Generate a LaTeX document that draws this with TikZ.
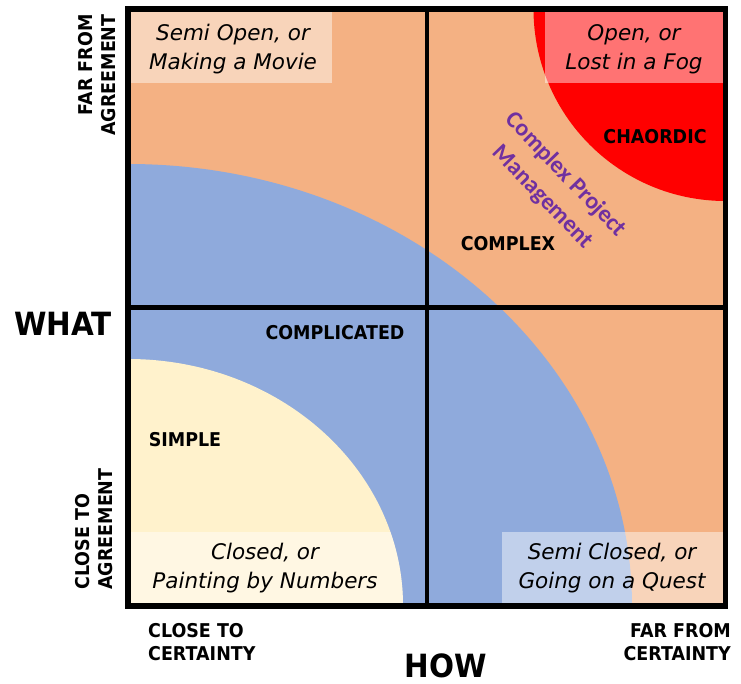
\documentclass[tikz,border=0pt]{standalone}
\usepackage{fontspec}
\newfontfamily\capsfont{DejaVu Sans}[FakeStretch=0.92]
\newfontfamily\handfont{DejaVu Sans}
\newfontfamily\pmfont{Carlito}
\definecolor{peach}{HTML}{F4B183}
\definecolor{bluezone}{HTML}{8FAADC}
\definecolor{cream}{HTML}{FFF2CC}
\definecolor{redzone}{HTML}{FF0000}
\definecolor{pmpurple}{HTML}{7030A0}
\tikzset{
  panel/.style={fill=white, fill opacity=0.45},
  gridline/.style={line width=4.5pt},
  frameline/.style={line width=5.5pt},
  handlabel/.style={font=\handfont\itshape\fontsize{21.5}{29}\selectfont, align=center, inner sep=0pt},
  capslabel/.style={font=\capsfont\bfseries\fontsize{19}{23}\selectfont, inner sep=0pt},
  axistitle/.style={font=\capsfont\bfseries\fontsize{32}{36}\selectfont, inner sep=0pt},
  pmlabel/.style={font=\pmfont\bfseries\fontsize{24}{32}\selectfont, text=pmpurple, align=center, inner sep=0pt}
}
\begin{document}
\begin{tikzpicture}[x=1pt,y=-1pt]
\useasboundingbox (0,0) rectangle (741,684);
% coloured zones inside the frame
\begin{scope}
  \clip (128,9) rectangle (725.5,606);
  \fill[peach] (128,9) rectangle (725.5,606);
  \fill[bluezone] (128,606) ellipse [x radius=504, y radius=442];
  \fill[cream] (128,606) ellipse [x radius=275, y radius=247];
  \fill[redzone] (725.5,9) circle [radius=192];
  % translucent panels behind the corner captions
  \fill[panel] (131,12) rectangle (332,83);
  \fill[panel] (545,12) rectangle (723,83);
  \begin{scope}
    \clip (128,606) ellipse [x radius=275, y radius=247];
    \fill[panel] (131,532) rectangle (410,603);
  \end{scope}
  \fill[panel] (502,532) rectangle (723,603);
\end{scope}
% quadrant lines and frame
\draw[gridline] (427,9) -- (427,606);
\draw[gridline] (128,307.5) -- (725.5,307.5);
\draw[frameline] (128,9) rectangle (725.5,606);
% corner captions
\node[handlabel] (semiopen) at (233,49) {Semi Open, or\\Making a Movie};
\node[handlabel] (open) at (634,49) {Open, or\\Lost in a Fog};
\node[handlabel] (closed) at (265,568) {Closed, or\\Painting by Numbers};
\node[handlabel] (semiclosed) at (612,568) {Semi Closed, or\\Going on a Quest};
% zone names
\node[capslabel] (simple) at (185,440) {SIMPLE};
\node[capslabel] (complicated) at (335,333) {COMPLICATED};
\node[capslabel] (complex) at (508,244) {COMPLEX};
\node[capslabel] (chaordic) at (655,137) {CHAORDIC};
\node[pmlabel, rotate=-46] (cpm) at (554,186) {Complex Project\\Management};
% axis labels
\node[capslabel, align=right, rotate=90] (faragree) at (97,75) {FAR FROM\\AGREEMENT};
\node[capslabel, align=left, rotate=90] (closeagree) at (94,529) {CLOSE TO\\AGREEMENT};
\node[capslabel, align=left, anchor=west] (closecert) at (148,642) {CLOSE TO\\CERTAINTY};
\node[capslabel, align=right, anchor=east] (farcert) at (731,642) {FAR FROM\\CERTAINTY};
\node[axistitle] (what) at (63,324) {WHAT};
\node[axistitle] (how) at (446,666) {HOW};
\end{tikzpicture}
\end{document}
